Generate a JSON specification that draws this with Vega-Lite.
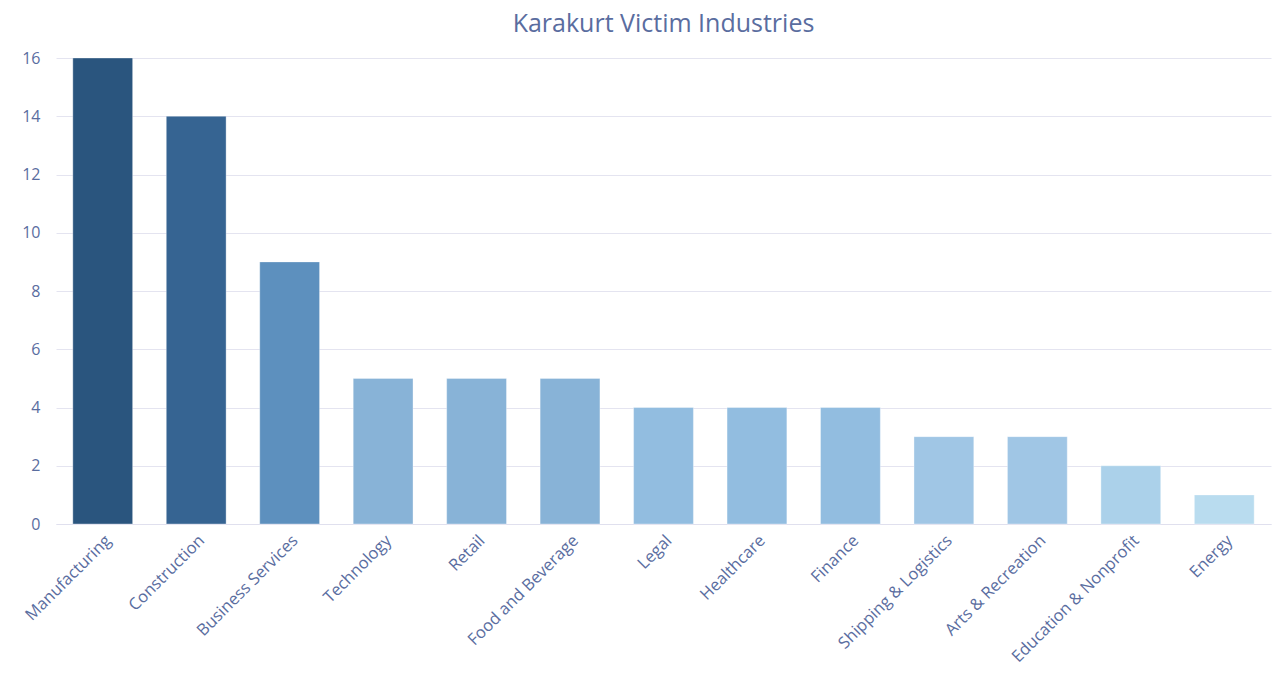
{
  "$schema": "https://vega.github.io/schema/vega-lite/v6.json",
  "width": 1273,
  "height": 680,
  "autosize": {"type": "fit", "contains": "padding"},
  "padding": {"left": 21, "right": 2, "top": 12, "bottom": 14},
  "background": "white",
  "title": {
    "text": "Karakurt Victim Industries",
    "font": "Open Sans",
    "fontSize": 25,
    "fontWeight": "normal",
    "color": "#5a6d9f",
    "offset": 13
  },
  "data": {
    "values": [
      {"industry": "Manufacturing", "victims": 16, "shade": "a"},
      {"industry": "Construction", "victims": 14, "shade": "b"},
      {"industry": "Business Services", "victims": 9, "shade": "c"},
      {"industry": "Technology", "victims": 5, "shade": "d"},
      {"industry": "Retail", "victims": 5, "shade": "d"},
      {"industry": "Food and Beverage", "victims": 5, "shade": "d"},
      {"industry": "Legal", "victims": 4, "shade": "e"},
      {"industry": "Healthcare", "victims": 4, "shade": "e"},
      {"industry": "Finance", "victims": 4, "shade": "e"},
      {"industry": "Shipping & Logistics", "victims": 3, "shade": "f"},
      {"industry": "Arts & Recreation", "victims": 3, "shade": "f"},
      {"industry": "Education & Nonprofit", "victims": 2, "shade": "g"},
      {"industry": "Energy", "victims": 1, "shade": "h"}
    ]
  },
  "mark": {"type": "bar", "strokeWidth": 1, "strokeOpacity": 0.35, "stroke": "white"},
  "encoding": {
    "x": {
      "field": "industry",
      "type": "nominal",
      "sort": null,
      "title": null,
      "scale": {"paddingInner": 0.36, "paddingOuter": 0.18},
      "axis": {
        "labelAngle": -45,
        "labelFont": "Open Sans",
        "labelFontSize": 16.5,
        "labelLimit": 400,
        "labelColor": "#5a6d9f",
        "ticks": false,
        "domain": true,
        "domainColor": "#e0e0ee",
        "labelPadding": 8
      }
    },
    "y": {
      "field": "victims",
      "type": "quantitative",
      "title": null,
      "scale": {"domain": [0, 16], "nice": false},
      "axis": {
        "values": [0, 2, 4, 6, 8, 10, 12, 14, 16],
        "labelFont": "Open Sans",
        "labelFontSize": 16,
        "labelColor": "#5a6d9f",
        "ticks": false,
        "domain": false,
        "gridColor": "#e4e4f0",
        "labelPadding": 16
      }
    },
    "color": {
      "field": "shade",
      "type": "nominal",
      "legend": null,
      "scale": {
        "domain": ["a", "b", "c", "d", "e", "f", "g", "h"],
        "range": ["#2a557e", "#366492", "#5d90be", "#88b3d7", "#92bde0", "#a0c6e5", "#abd1ea", "#b9dcef"]
      }
    }
  },
  "config": {"view": {"stroke": null}}
}
